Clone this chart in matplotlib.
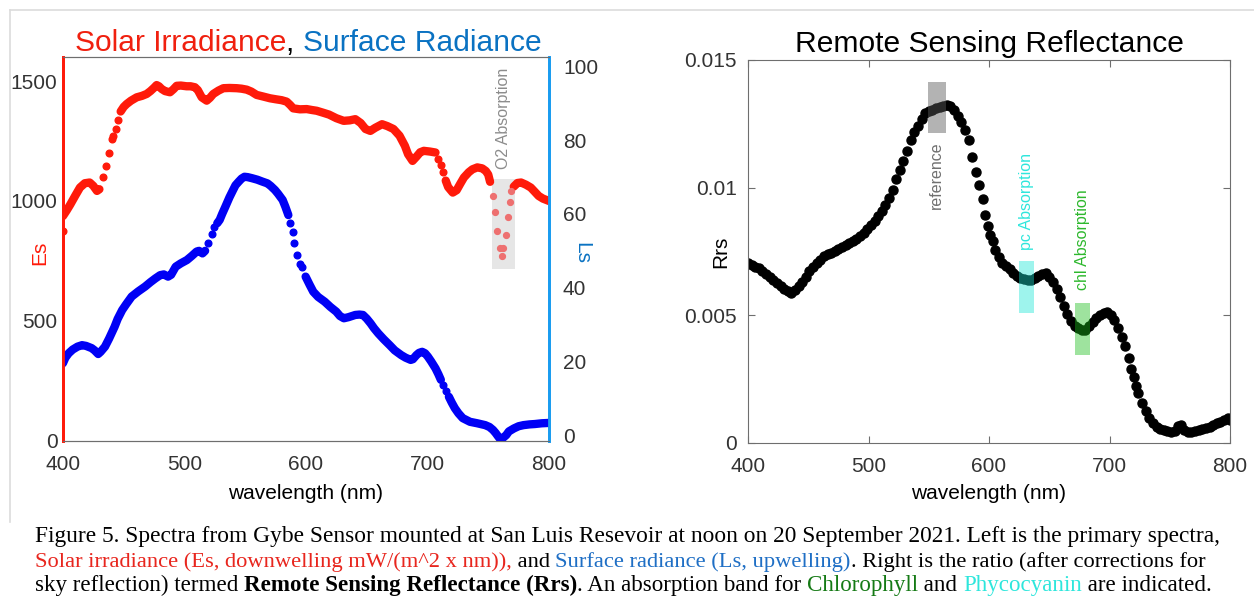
import numpy as np
import matplotlib
matplotlib.use("Agg")
import matplotlib.pyplot as plt
from matplotlib.patches import Rectangle
from matplotlib.lines import Line2D

plt.rcParams['font.family'] = ['Liberation Sans', 'DejaVu Sans']

nan = np.nan

# -------------------------------
# Data
# -------------------------------
# Es (solar irradiance), dense runs separated by nan
es_wl = [400, 403, 406, 410, 414, 418, 422, 425, 428, 430, nan,
         447.5, 450, 452.4, 456, 460.7, 465, 468.9, 472, 475, 477.1, 479, 481.2, 484, 488.1, 491,
         493.6, 497, 501.8, 505, 508.6, 511, 514.2, 518.3, 521, 523.7, 528, 532, 537, 543, 547,
         551.2, 555, 559.4, 565, 570.4, 575, 580, 584.1, 587, 589.5, 595, 600.6, 605, 608.8, 614,
         619, 625, 631, 636, 640.6, 645, 649, 653, 657, 662.6, 667, 672, 677, 681.4, 684, 687.7,
         691, 694, 697, 702, 706.6, nan,
         715, 717, 720.8, 724, 727, 730, 734, 737, 741, 745, 748, 750, 751.5, nan,
         771, 774, 777, 781, 785, 788, 791.5, 795, 800]
es_val = [937, 960, 985, 1021, 1056, 1074, 1077, 1063, 1042, 1049, nan,
          1373, 1392, 1404, 1418, 1432, 1438, 1446, 1458, 1472, 1483, 1478, 1467, 1458, 1453, 1466,
          1480, 1481, 1478, 1478, 1474, 1462, 1432, 1418, 1430, 1446, 1460, 1470, 1471, 1470, 1468,
          1464, 1456, 1442, 1435, 1428, 1424, 1420, 1414, 1400, 1386, 1382, 1383, 1379, 1376, 1368,
          1360, 1345, 1334, 1336, 1341, 1325, 1300, 1292, 1305, 1320, 1312, 1300, 1272, 1230, 1195, 1167,
          1185, 1203, 1209, 1206, 1202, nan,
          1085, 1058, 1035, 1045, 1072, 1098, 1120, 1132, 1140, 1136, 1125, 1110, 1080, nan,
          1060, 1075, 1077, 1068, 1056, 1040, 1021, 1010, 1000]
# Es isolated samples
es_dot_wl = [400, 432.6, 435.4, 437.9, 440, 441.4, 443.5, 445.5, 709, 711, 713]
es_dot_val = [875, 1098, 1144, 1199, 1258, 1269, 1300, 1337, 1175, 1148, 1120]
# Es samples inside the O2 band
o2_wl = [754, 755.6, 757, 760, 761, 762, 765, 766, 768, 769]
o2_val = [1021, 953, 875, 805, 770, 806, 857, 932, 994, 1042]

# Ls (surface radiance)
ls_wl = [400, 402, 404.7, 408, 412, 415.7, 419, 423.6, 426, 429, 431, 434.6, 438, 442.5, 445,
         448.7, 452, 456.6, 462, 467.6, 472, 476, 480, 483, 486.5, 489, 492.8, 497, 502, 506, 510,
         512, 514.8, 517, nan,
         527, 529, 531, 533.7, 537, 540, 542, 544.7, 547, 549.4, 552, 555.7, 560, 564, 568.3, 571,
         574.5, 577, 580.8, 583, 585.5, nan,
         599.7, 603, 606, 610, 615.4, 620, 624.9, 628, 631.2, 635, 640.6, 644, 646.9, 650, 653.2,
         656, 659.5, 664, 668.9, 673, 678.4, 682, 686.2, 688, 690.9, 693, 695.6, 698, 700.3, 703,
         706.6, 709, 711, nan,
         717.6, 720, 722.5, 725.5, 729, 735, 741, 747.5, 751, 753.9, 756, 758, 760.1, 762, 764.8,
         767, 771.1, 775, 779, 784, 788.4, 794, 800]
ls_val = [19.5, 21, 22.2, 23.2, 24.0, 24.4, 24.2, 23.6, 23.0, 22.0, 22.6, 24, 26.2, 29.4, 31.5,
          33.9, 35.5, 37.6, 39.0, 40.3, 41.5, 42.5, 43.4, 43.6, 43.0, 43.5, 45.7, 46.6, 47.5, 48.6, 49.8,
          50.0, 49.3, 50.0, nan,
          57.5, 58.4, 60.0, 62, 64.5, 66.5, 67.8, 68.8, 69.6, 70.1, 70.0, 69.7, 69.3, 68.8, 68.3, 67.6,
          66.5, 65.5, 63.8, 62.0, 59.7, nan,
          43.0, 40.8, 38.9, 37.5, 36.2, 34.8, 33.5, 32.3, 31.7, 32.0, 32.6, 32.7, 32.6, 31.6, 30.3,
          29.0, 27.6, 26.0, 24.4, 23.0, 21.7, 21.0, 20.4, 20.6, 21.7, 22.3, 22.6, 22.2, 21.3, 20.0,
          18.1, 16.5, 15.0, nan,
          10.4, 8.8, 7.3, 5.9, 4.6, 3.6, 3.2, 2.7, 2.2, 1.4, 0.6, -0.3, -1.2, -0.8, 0.0,
          1.0, 1.8, 2.4, 2.7, 2.9, 3.0, 3.2, 3.3]
ls_dot_wl = [519.5, 522.6, 524.2, 587, 589, 590.5, 593, 595, 596.6, 713, 715]
ls_dot_val = [52.0, 54.7, 56.6, 57.5, 55.0, 52.0, 49.0, 46.5, 45.7, 13.6, 12.0]

# Rrs (remote sensing reflectance)
rrs_wl = [400, 403, 406, 409, 412, 415, 418, 421, 424, 427, 430, 433, 436, 439, 442, 445, 448,
          451, 454, 457, 460, 463, 466, 469, 472, 475, 478, 481, 484, 487, 490, 493, 496, 499,
          502, 505, 508, 511, 514, 517, 520, 523, 526, 529, 532, 535, 538, 541, 544, 547, 550,
          553, 556, 559, 562, 565, 568, 571, 574, 577, 580, 583, 586, 589, 592, 595, 597, 599,
          601, 603, 605, 608, 611, 614, 617, 620, 623, 626, 629, 632, 635, 638, 641, 644, 647,
          650, 653, 656, 659, 662, 665, 668, 671, 674, 677, 680, 683, 686, 689, 692, 695, 698,
          701, 704, 707, 710, 713, 716, 718, 720, 722, 724, 727, 730, 733, 736, 739, 742, 745,
          748, 751, 754, 757, 759, 762, 765, 768, 771, 774, 777, 780, 783, 786, 789, 792, 795,
          798, 800]
rrs_val = [0.00704, 0.00697, 0.00690, 0.00684, 0.00672, 0.00662, 0.00652, 0.00640, 0.00628,
           0.00616, 0.00605, 0.00595, 0.00586, 0.00598, 0.00615, 0.00632, 0.00652, 0.00672,
           0.00688, 0.00703, 0.00718, 0.00731, 0.00740, 0.00746, 0.00750, 0.00758, 0.00768,
           0.00776, 0.00782, 0.00790, 0.00800, 0.00810, 0.00822, 0.00838, 0.00852, 0.00870,
           0.00890, 0.00910, 0.00932, 0.00960, 0.00992, 0.01033, 0.01070, 0.01105, 0.01143,
           0.01185, 0.01218, 0.01243, 0.01270, 0.01291, 0.01300, 0.01304, 0.01312, 0.01317,
           0.01320, 0.01324, 0.01318, 0.01305, 0.01282, 0.01256, 0.01226, 0.01185, 0.01120,
           0.01060, 0.01010, 0.00955, 0.00893, 0.00850, 0.00815, 0.00790, 0.00756, 0.00730,
           0.00706, 0.00695, 0.00680, 0.00666, 0.00655, 0.00648, 0.00642, 0.00638, 0.00640,
           0.00648, 0.00655, 0.00662, 0.00665, 0.00652, 0.00632, 0.00605, 0.00573, 0.00535,
           0.00505, 0.00478, 0.00460, 0.00449, 0.00443, 0.00443, 0.00458, 0.00475, 0.00490,
           0.00501, 0.00510, 0.00514, 0.00500, 0.00482, 0.00450, 0.00415, 0.00378, 0.00333,
           0.00290, 0.00258, 0.00225, 0.00195, 0.00158, 0.00126, 0.00098, 0.00078, 0.00063,
           0.00055, 0.00050, 0.00046, 0.00044, 0.00048, 0.00065, 0.00070, 0.00052, 0.00044,
           0.00043, 0.00046, 0.00050, 0.00055, 0.00060, 0.00064, 0.00070, 0.00078, 0.00083,
           0.00090, 0.00097, 0.00090]

# absorption bands: (x0, x1, y0, y1)
o2_band = (753, 772, 715, 1091)
ref_band = (549, 564, 0.01214, 0.01414)
pc_band = (625, 637, 0.00509, 0.00713)
chl_band = (671, 684, 0.00345, 0.00548)

RED = '#ff1a0a'
BLUE = '#0000f5'
LSBLUE = '#0a72c2'
TICK = '#333333'

fig = plt.figure(figsize=(12.54, 6.09), dpi=100)
W = fig.bbox.width
H = fig.bbox.height
r = fig.canvas.get_renderer()


def seg_width(txt, size, **kw):
    # width of a text piece including leading/trailing spaces
    a = fig.text(0, 0, '|' + txt + '|', fontsize=size, **kw)
    b = fig.text(0, 0, '||', fontsize=size, **kw)
    w = a.get_window_extent(r).width - b.get_window_extent(r).width
    a.remove()
    b.remove()
    return w


# -------------------------------
# Left panel: Es and Ls
# -------------------------------
ax = fig.add_axes([0.0502, 0.2759, 0.3876, 0.6305])
ax2 = ax.twinx()

ax.add_patch(Rectangle((o2_band[0], o2_band[2]), o2_band[1] - o2_band[0], o2_band[3] - o2_band[2],
                       color='#e6e6e6', lw=0, zorder=1))
ax.plot(es_wl, es_val, color=RED, lw=6, solid_capstyle='round', solid_joinstyle='round', zorder=3)
ax.plot(es_dot_wl, es_dot_val, 'o', color=RED, ms=4.8, zorder=3)
ax.plot(o2_wl, o2_val, 'o', color='#ee7070', ms=4.2, zorder=3)
ax.text(762.5, 1132, 'O2 Absorption', rotation=90, ha='center', va='bottom',
        fontsize=11.5, color='#8c8c8c')

ax2.plot(ls_wl, ls_val, color=BLUE, lw=6, solid_capstyle='round', solid_joinstyle='round')
ax2.plot(ls_dot_wl, ls_dot_val, 'o', color=BLUE, ms=4.8)

ax.set_xlim(400, 800)
ax.set_ylim(0, 1600)
ax2.set_ylim(-1.6, 102.6)
ax.set_xticks([400, 500, 600, 700, 800])
ax.set_yticks([0, 500, 1000, 1500])
ax2.set_yticks([0, 20, 40, 60, 80, 100])

for a in (ax, ax2):
    for s in a.spines.values():
        s.set_color('#6e6e6e')
        s.set_linewidth(0.8)
    a.spines['left'].set_color(RED)
    a.spines['left'].set_linewidth(2)
    a.spines['right'].set_color('#1a9cf0')
    a.spines['right'].set_linewidth(2)
ax.tick_params(axis='x', direction='in', length=0, pad=10, labelsize=15, labelcolor=TICK)
ax.tick_params(axis='y', direction='in', length=0, pad=4, labelsize=15, labelcolor=TICK)
ax2.tick_params(axis='y', direction='in', length=0, pad=10, labelsize=15, labelcolor=TICK)

ax.set_xlabel('wavelength (nm)', fontsize=15, labelpad=7)
ax.set_ylabel('Es', fontsize=15, color=RED)
ax.yaxis.set_label_coords(-0.029, 0.49)
ax2.set_ylabel('Ls', fontsize=15, color=LSBLUE, rotation=270, va='center')
ax2.yaxis.set_label_coords(1.068, 0.49)

# multi-coloured title, centred over the left panel
title_parts = [('Solar Irradiance', '#f0200f'), (', ', 'k'), ('Surface Radiance', LSBLUE)]
tsize = 21.6
widths = [seg_width(txt, tsize) for txt, col in title_parts]
x = 308 - sum(widths) / 2
for (txt, col), w in zip(title_parts, widths):
    fig.text(x / W, 1 - 51 / H, txt, color=col, fontsize=tsize, ha='left', va='baseline')
    x += w

# -------------------------------
# Right panel: Rrs
# -------------------------------
bx = fig.add_axes([0.5965, 0.2726, 0.3844, 0.6289])
bx.plot(rrs_wl, rrs_val, 'o', color='k', ms=6.5, zorder=2)
for band, col, al in [(ref_band, '#5b5b5b', 0.46), (pc_band, '#18e6d5', 0.42), (chl_band, '#18be18', 0.42)]:
    bx.add_patch(Rectangle((band[0], band[2]), band[1] - band[0], band[3] - band[2],
                           color=col, alpha=al, lw=0, zorder=3))
bx.text(556.5, 0.0118, 'reference', rotation=90, ha='center', va='top', fontsize=11.5, color='#707070')
bx.text(631, 0.00755, 'pc Absorption', rotation=90, ha='center', va='bottom', fontsize=11.5, color='#2ee6dc')
bx.text(677.5, 0.0060, 'chl Absorption', rotation=90, ha='center', va='bottom', fontsize=11.5, color='#2db82d')

bx.set_xlim(400, 800)
bx.set_ylim(0, 0.015)
bx.set_xticks([400, 500, 600, 700, 800])
bx.set_yticks([0, 0.005, 0.01, 0.015])
bx.set_yticklabels(['0', '0.005', '0.01', '0.015'])
for s in bx.spines.values():
    s.set_color('#6e6e6e')
    s.set_linewidth(0.8)
bx.tick_params(direction='in', length=5, width=0.8, color='#6e6e6e', top=True, right=True,
               labelsize=15, labelcolor=TICK)
bx.tick_params(axis='x', pad=10)
bx.tick_params(axis='y', pad=8)
bx.set_xlabel('wavelength (nm)', fontsize=15, labelpad=6)
bx.set_ylabel('Rrs', fontsize=15)
bx.yaxis.set_label_coords(-0.037, 0.5)
bx.set_title('Remote Sensing Reflectance', fontsize=21.6, pad=6)

# -------------------------------
# Caption
# -------------------------------
CAP = ['Liberation Serif', 'DejaVu Serif']
cap_lines = [
    [('Figure 5. Spectra from Gybe Sensor mounted at San Luis Resevoir at noon on 20 September 2021. '
      'Left is the primary spectra,', 'k', 'normal')],
    [('Solar irradiance (Es, downwelling mW/(m^2 x nm)),', '#e8261e', 'normal'),
     (' and ', 'k', 'normal'),
     ('Surface radiance (Ls, upwelling)', '#1f6fc5', 'normal'),
     ('. Right is the ratio (after corrections for', 'k', 'normal')],
    [('sky reflection) termed ', 'k', 'normal'),
     ('Remote Sensing Reflectance (Rrs)', 'k', 'bold'),
     ('. An absorption band for ', 'k', 'normal'),
     ('Chlorophyll', '#157a15', 'normal'),
     (' and ', 'k', 'normal'),
     ('Phycocyanin', '#2ee6dc', 'normal'),
     (' are indicated.', 'k', 'normal')],
]
cap_y = [1 - 542 / H, 1 - 567 / H, 1 - 591 / H]
cap_right = [1219, 1205, 1212]

for line, y, xr in zip(cap_lines, cap_y, cap_right):
    # pick the size that makes the line span the same width as in the original
    w10 = sum(seg_width(t, 10, family=CAP, weight=wt) for t, c, wt in line)
    size = 10 * (xr - 35) / w10
    x = 35
    for txt, col, wt in line:
        fig.text(x / W, y, txt, family=CAP, fontsize=size, weight=wt, color=col,
                 ha='left', va='baseline')
        x += seg_width(txt, size, family=CAP, weight=wt)

# light frame lines at the top and left of the figure
fig.add_artist(Line2D([10 / W, 1.0], [1 - 10 / H, 1 - 10 / H], color='#dcdcdc', lw=1.2))
fig.add_artist(Line2D([10 / W, 10 / W], [1 - 10 / H, 1 - 522 / H], color='#dcdcdc', lw=1.2))

fig.savefig('out.png', dpi=100)
